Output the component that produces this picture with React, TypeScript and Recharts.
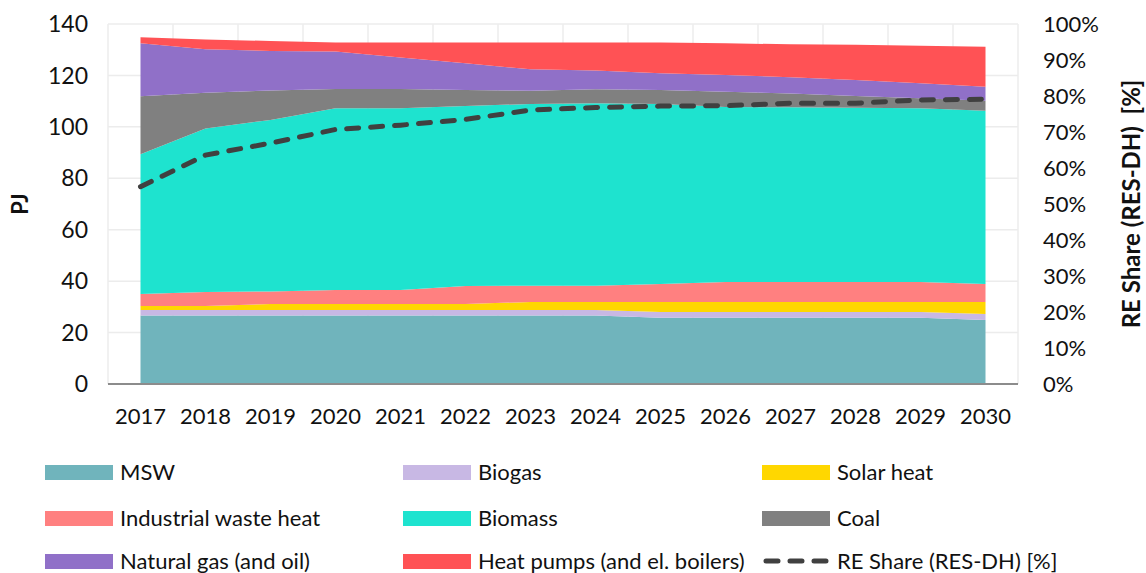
import React from 'react';
import { ComposedChart, Area, Line, XAxis, YAxis, CartesianGrid } from 'recharts';

const years = [2017, 2018, 2019, 2020, 2021, 2022, 2023, 2024, 2025, 2026, 2027, 2028, 2029, 2030];
const msw = [26.6, 26.6, 26.6, 26.6, 26.6, 26.6, 26.6, 26.6, 25.8, 25.8, 25.8, 25.8, 25.8, 24.9];
const biogas = [2.2, 2.2, 2.2, 2.2, 2.2, 2.2, 2.2, 2.2, 2.2, 2.2, 2.2, 2.2, 2.2, 2.3];
const solar = [1.5, 1.5, 2.3, 2.3, 2.3, 2.3, 3.1, 3.1, 3.9, 3.9, 3.9, 3.9, 3.9, 4.7];
const industrial = [4.7, 5.5, 4.9, 5.5, 5.5, 7.0, 6.3, 6.3, 7.0, 7.8, 7.8, 7.8, 7.8, 7.0];
const biomass = [54.3, 63.6, 66.7, 70.6, 70.6, 70.0, 70.7, 71.0, 70.0, 68.0, 67.9, 67.7, 67.5, 67.4];
const coal = [22.6, 13.9, 11.4, 7.5, 7.5, 6.2, 5.1, 5.4, 5.4, 6.0, 5.4, 4.6, 3.9, 3.9];
const naturalGas = [20.6, 16.9, 15.4, 14.6, 12.3, 10.4, 8.4, 7.3, 6.5, 6.5, 6.3, 6.2, 5.9, 5.4];
const heatPumps = [2.3, 3.8, 3.9, 3.5, 5.8, 8.1, 10.4, 10.9, 12.0, 12.3, 12.8, 13.7, 14.5, 15.6];
const reShare = [54.8, 63.6, 66.9, 70.7, 71.9, 73.5, 76.1, 76.8, 77.2, 77.3, 78.0, 78.0, 78.9, 79.1];

const leftTicks = [0, 20, 40, 60, 80, 100, 120, 140];
const rightTicks = [0, 10, 20, 30, 40, 50, 60, 70, 80, 90, 100];
const gridYears = [2016.5, 2017.5, 2018.5, 2019.5, 2020.5, 2021.5, 2022.5, 2023.5, 2024.5, 2025.5, 2026.5, 2027.5, 2028.5, 2029.5, 2030.5];

const series = [
  { key: 'msw', name: 'MSW', color: '#70b4bc', values: msw },
  { key: 'biogas', name: 'Biogas', color: '#c8b8e4', values: biogas },
  { key: 'solar', name: 'Solar heat', color: '#ffd700', values: solar },
  { key: 'industrial', name: 'Industrial waste heat', color: '#ff8080', values: industrial },
  { key: 'biomass', name: 'Biomass', color: '#1ee3cf', values: biomass },
  { key: 'coal', name: 'Coal', color: '#808080', values: coal },
  { key: 'naturalGas', name: 'Natural gas (and oil)', color: '#9070c8', values: naturalGas },
  { key: 'heatPumps', name: 'Heat pumps (and el. boilers)', color: '#ff5255', values: heatPumps },
];

const data = years.map((y, i) => {
  const row: Record<string, number> = { year: y, reShare: reShare[i] };
  series.forEach((s) => { row[s.key] = s.values[i]; });
  return row;
});

const FONT = 'Lato, "Open Sans", sans-serif';

const LeftTitle = (props: any) => {
  const vb = props.viewBox || { x: 0, y: 0, width: 0, height: 0 };
  const cx = vb.x + 11;
  const cy = vb.y + vb.height / 2;
  return (
    <text transform={`translate(${cx},${cy}) rotate(-90)`} textAnchor="middle" dominantBaseline="central"
      fontFamily={FONT} fontSize={22} fontWeight="bold" fill="#111">PJ</text>
  );
};

const RightTitle = (props: any) => {
  const vb = props.viewBox || { x: 0, y: 0, width: 0, height: 0 };
  const cx = vb.x + 112;
  const cy = vb.y + vb.height / 2;
  return (
    <text transform={`translate(${cx},${cy}) rotate(-90)`} textAnchor="middle" dominantBaseline="central"
      fontFamily={FONT} fontSize={24} fontWeight="bold" fill="#111" style={{ whiteSpace: 'pre' }}>{'RE Share (RES-DH)  [%]'}</text>
  );
};

const legendItems = [
  { name: 'MSW', color: '#70b4bc' },
  { name: 'Biogas', color: '#c8b8e4' },
  { name: 'Solar heat', color: '#ffd700' },
  { name: 'Industrial waste heat', color: '#ff8080' },
  { name: 'Biomass', color: '#1ee3cf' },
  { name: 'Coal', color: '#808080' },
  { name: 'Natural gas (and oil)', color: '#9070c8' },
  { name: 'Heat pumps (and el. boilers)', color: '#ff5255' },
  { name: 'RE Share (RES-DH) [%]', color: '#404040', dashed: true },
];
const colX = [45, 403, 762];
const rowY = [472, 518, 561];

export default function App() {
  return (
    <div style={{ position: 'absolute', left: 0, top: 0, width: 1146, height: 573, background: '#fff', fontFamily: FONT, overflow: 'hidden' }}>
      <ComposedChart width={1146} height={573} data={data} margin={{ top: 24, right: 8, bottom: 149, left: 8 }}>
        <CartesianGrid
          stroke="#ececec"
          strokeWidth={1.5}
          yAxisId="left"
          verticalCoordinatesGenerator={(p: any) => {
            const sc = p && p.xAxis && p.xAxis.scale;
            if (sc && typeof sc === 'function') return gridYears.map((v) => sc(v));
            const off = p.offset;
            return gridYears.map((_, i) => off.left + (off.width * i) / 14);
          }}
        />
        <XAxis
          dataKey="year"
          type="number"
          domain={[2016.5, 2030.5]}
          allowDataOverflow={true}
          ticks={years}
          tickLine={false}
          tickSize={0}
          tickMargin={24}
          height={40}
          axisLine={{ stroke: '#8c8c8c', strokeWidth: 2 }}
          tick={{ fill: '#111', fontSize: 22, fontFamily: FONT }}
          interval={0}
        />
        <YAxis
          yAxisId="left"
          domain={[0, 140]}
          ticks={leftTicks}
          width={100}
          tickLine={false}
          axisLine={false}
          tickSize={0}
          tickMargin={20}
          tick={{ fill: '#111', fontSize: 23, fontFamily: FONT }}
          label={<LeftTitle />}
        />
        <YAxis
          yAxisId="right"
          orientation="right"
          domain={[0, 100]}
          ticks={rightTicks}
          width={120}
          tickLine={false}
          axisLine={false}
          tickSize={0}
          tickMargin={25}
          tickFormatter={(v: number) => `${v}%`}
          tick={{ fill: '#111', fontSize: 22, fontFamily: FONT, textAnchor: 'start' }}
          label={<RightTitle />}
        />
        {series.map((s) => (
          <Area
            key={s.key}
            yAxisId="left"
            type="linear"
            dataKey={s.key}
            name={s.name}
            stackId="1"
            stroke="none"
            fill={s.color}
            fillOpacity={1}
            isAnimationActive={false}
          />
        ))}
        <Line
          yAxisId="right"
          type="linear"
          dataKey="reShare"
          name="RE Share (RES-DH) [%]"
          stroke="#404040"
          strokeWidth={5}
          strokeDasharray="12 12"
          strokeLinecap="round"
          dot={false}
          activeDot={false}
          isAnimationActive={false}
        />
      </ComposedChart>
      {legendItems.map((item, i) => {
        const x = colX[i % 3];
        const y = rowY[Math.floor(i / 3)];
        return (
          <div key={item.name} style={{ position: 'absolute', left: x, top: y - 12, height: 24, display: 'flex', alignItems: 'center', whiteSpace: 'nowrap' }}>
            {item.dashed ? (
              <svg width={68} height={16} style={{ display: 'block' }}>
                <line x1={4} y1={8} x2={64} y2={8} stroke={item.color} strokeWidth={5} strokeDasharray="12 12" strokeLinecap="round" />
              </svg>
            ) : (
              <div style={{ width: 68, height: 15, background: item.color }} />
            )}
            <span style={{ marginLeft: 7, fontSize: 22, color: '#111', lineHeight: '24px' }}>{item.name}</span>
          </div>
        );
      })}
    </div>
  );
}
